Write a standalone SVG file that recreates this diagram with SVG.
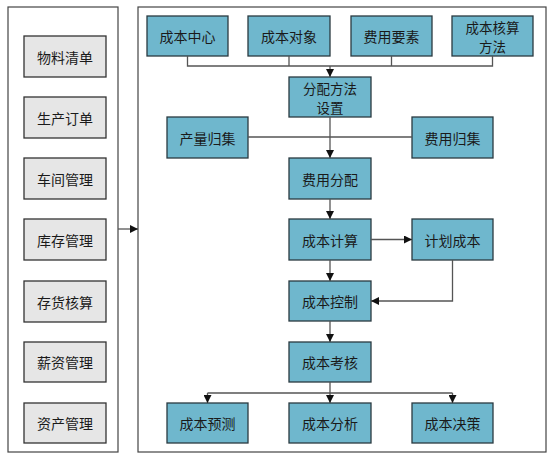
<svg xmlns="http://www.w3.org/2000/svg" width="557" height="460" viewBox="0 0 557 460">
<style>
.cont{fill:#fff;stroke:#444;stroke-width:1.2}
.g{fill:#e6e6e6;stroke:#333;stroke-width:1.3}
.b{fill:#6fb7cd;stroke:#2a3a40;stroke-width:1.3}
text{font-family:"Noto Sans CJK SC","Noto Sans CJK JP",sans-serif;font-size:14px;fill:#1a1a1a;text-anchor:middle;dominant-baseline:central}
.t2{font-size:13.5px}
.c{fill:none;stroke:#555;stroke-width:1.3}
.a{fill:none;stroke:#555;stroke-width:1.3;marker-end:url(#ah)}
</style>
<defs>
<marker id="ah" viewBox="0 0 10 10" refX="10" refY="5" markerWidth="8" markerHeight="8" markerUnits="userSpaceOnUse" orient="auto">
<path d="M0,0 L10,5 L0,10 z" fill="#111"/>
</marker>
</defs>
<rect class="cont" x="8" y="7" width="110" height="445"/>
<rect class="cont" x="138" y="7" width="408" height="445"/>
<g id="n-wuliao"><rect class="g" x="24" y="36" width="82" height="41"/><text x="65" y="56.5">物料清单</text></g>
<g id="n-shengchan"><rect class="g" x="24" y="97" width="82" height="41"/><text x="65" y="117.5">生产订单</text></g>
<g id="n-chejian"><rect class="g" x="24" y="158" width="82" height="41"/><text x="65" y="178.5">车间管理</text></g>
<g id="n-kucun"><rect class="g" x="24" y="219" width="82" height="41"/><text x="65" y="239.5">库存管理</text></g>
<g id="n-cunhuo"><rect class="g" x="24" y="281" width="82" height="41"/><text x="65" y="301.5">存货核算</text></g>
<g id="n-xinzi"><rect class="g" x="24" y="342" width="82" height="40"/><text x="65" y="362">薪资管理</text></g>
<g id="n-zichan"><rect class="g" x="24" y="403" width="82" height="40"/><text x="65" y="423">资产管理</text></g>
<g id="n-zhongxin"><rect class="b" x="147" y="16" width="81" height="40"/><text x="187.5" y="36">成本中心</text></g>
<g id="n-duixiang"><rect class="b" x="248" y="16" width="82" height="40"/><text x="289" y="36">成本对象</text></g>
<g id="n-yaosu"><rect class="b" x="351" y="16" width="81" height="40"/><text x="391.5" y="36">费用要素</text></g>
<g id="n-fangfa"><rect class="b" x="452" y="16" width="81" height="40"/><text class="t2" x="492.5" y="26.5">成本核算<tspan x="492.5" dy="19">方法</tspan></text></g>
<g id="n-fenpeifangfa"><rect class="b" x="289" y="77" width="82" height="40"/><text class="t2" x="330" y="87.5">分配方法<tspan x="330" dy="19">设置</tspan></text></g>
<g id="n-chanliang"><rect class="b" x="167" y="117" width="81" height="41"/><text x="207.5" y="137.5">产量归集</text></g>
<g id="n-feiyongguiji"><rect class="b" x="412" y="117" width="81" height="41"/><text x="452.5" y="137.5">费用归集</text></g>
<g id="n-feiyongfenpei"><rect class="b" x="289" y="158" width="82" height="41"/><text x="330" y="178.5">费用分配</text></g>
<g id="n-jisuan"><rect class="b" x="289" y="219" width="82" height="41"/><text x="330" y="239.5">成本计算</text></g>
<g id="n-jihua"><rect class="b" x="412" y="219" width="81" height="41"/><text x="452.5" y="239.5">计划成本</text></g>
<g id="n-kongzhi"><rect class="b" x="289" y="281" width="82" height="40"/><text x="330" y="301">成本控制</text></g>
<g id="n-kaohe"><rect class="b" x="289" y="342" width="82" height="40"/><text x="330" y="362">成本考核</text></g>
<g id="n-yuce"><rect class="b" x="167" y="403" width="81" height="40"/><text x="207.5" y="423">成本预测</text></g>
<g id="n-fenxi"><rect class="b" x="289" y="403" width="82" height="40"/><text x="330" y="423">成本分析</text></g>
<g id="n-juece"><rect class="b" x="412" y="403" width="81" height="40"/><text x="452.5" y="423">成本决策</text></g>
<g id="connectors">
<path class="a" d="M118,229 H138"/>
<path class="c" d="M187.5,56 V66 H492.5 V56 M289,56 V66 M391.5,56 V66"/>
<path class="a" d="M330,66 V77"/>
<path class="c" d="M248,137 H412"/>
<path class="a" d="M330,117 V158"/>
<path class="a" d="M330,199 V219"/>
<path class="a" d="M371,239.5 H412"/>
<path class="a" d="M330,260 V281"/>
<path class="a" d="M452.5,260 V301 H371"/>
<path class="a" d="M330,321 V342"/>
<path class="c" d="M330,382 V393 M207.5,393 H452.5"/>
<path class="a" d="M207.5,393 V403"/>
<path class="a" d="M330,393 V403"/>
<path class="a" d="M452.5,393 V403"/>
</g>
</svg>
